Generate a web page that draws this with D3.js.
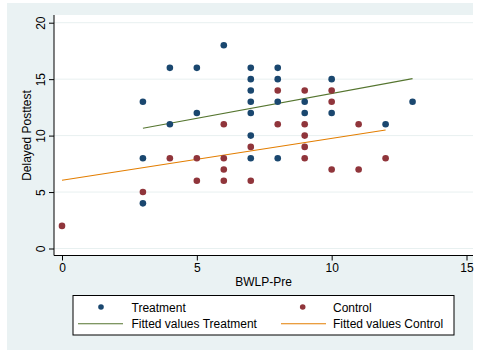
<!DOCTYPE html>
<html>
<head>
<meta charset="utf-8">
<script src="https://cdn.jsdelivr.net/npm/d3@7"></script>
<style>
body { margin: 0; background: #ffffff; }
text { font-family: "Liberation Sans", Arial, sans-serif; fill: #000; }
</style>
</head>
<body>
<div id="scatterplot"></div>
<script>
// svg parameters
var svgHeight = 351;
var svgWidth = 480;

// data
var treatX = [6, 4, 5, 7, 8, 7, 8, 10, 7, 3, 7, 8, 9, 13, 5, 7, 9, 10, 4, 12, 7, 3, 7, 8, 3];
var treatY = [18, 16, 16, 16, 16, 15, 15, 15, 14, 13, 13, 13, 13, 13, 12, 12, 12, 12, 11, 11, 10, 8, 8, 8, 4];
var controlX = [8, 9, 10, 10, 6, 8, 9, 11, 9, 7, 9, 4, 5, 6, 9, 12, 6, 10, 11, 5, 6, 7, 3, 0];
var controlY = [14, 14, 14, 13, 11, 11, 11, 11, 10, 9, 9, 8, 8, 8, 8, 8, 7, 7, 7, 6, 6, 6, 5, 2];
var fitTreatX = [3, 13];
var fitTreatY = [10.65, 15.05];
var fitControlX = [0, 12];
var fitControlY = [6.05, 10.5];
var xTicks = [0, 5, 10, 15];
var yTicks = [0, 5, 10, 15, 20];
var legendLabels = ["Treatment", "Control", "Fitted values Treatment", "Fitted values Control"];

var navy = "#1a476f", maroon = "#90353b", green = "#55752f", orange = "#e37e00";

var plot = {"left": 54, "right": 473, "top": 15, "bottom": 255.5};

var svg = d3.select("#scatterplot").append("svg").attr("id", "svgPlot")
	.attr("height", svgHeight)
	.attr("width", svgWidth);

// graph region + plot region
svg.append("rect").attr("x", 7).attr("y", 3).attr("width", 466).attr("height", 347).attr("fill", "#eaf2f3");
svg.append("rect").attr("x", plot.left).attr("y", plot.top)
	.attr("width", plot.right - plot.left).attr("height", plot.bottom - plot.top)
	.attr("fill", "#ffffff");

var xScale = d3.scaleLinear().domain([0, 15]).range([62, 466.5]);
var yScale = d3.scaleLinear().domain([0, 20]).range([248.5, 22.7]);

// gridlines
svg.append("g").selectAll("line").data(yTicks).enter().append("line")
	.attr("x1", plot.left).attr("x2", plot.right)
	.attr("y1", function(d) { return yScale(d); })
	.attr("y2", function(d) { return yScale(d); })
	.attr("stroke", "#e8f0f0").attr("stroke-width", 1);

// fitted lines
var line = d3.line().x(function(d) { return xScale(d[0]); }).y(function(d) { return yScale(d[1]); });
svg.append("path").datum(d3.zip(fitTreatX, fitTreatY)).attr("d", line)
	.attr("fill", "none").attr("stroke", green).attr("stroke-width", 1.1);
svg.append("path").datum(d3.zip(fitControlX, fitControlY)).attr("d", line)
	.attr("fill", "none").attr("stroke", orange).attr("stroke-width", 1.1);

// points
svg.append("g").selectAll("circle").data(d3.zip(controlX, controlY)).enter().append("circle")
	.attr("cx", function(d) { return xScale(d[0]); })
	.attr("cy", function(d) { return yScale(d[1]); })
	.attr("r", 3.3).attr("fill", maroon);
svg.append("g").selectAll("circle").data(d3.zip(treatX, treatY)).enter().append("circle")
	.attr("cx", function(d) { return xScale(d[0]); })
	.attr("cy", function(d) { return yScale(d[1]); })
	.attr("r", 3.3).attr("fill", navy);

// Axis
var xAxis = d3.axisBottom(xScale).tickValues(xTicks).tickSize(5).tickPadding(3);
var gx = svg.append("g").attr("transform", "translate(0," + plot.bottom + ")").call(xAxis);
gx.select(".domain").remove();
gx.append("line").attr("x1", plot.left).attr("x2", plot.right).attr("stroke", "#000");
gx.selectAll("text").attr("font-size", 12).attr("fill", "#000").style("font-family", "Liberation Sans, Arial, sans-serif");

var yAxis = d3.axisLeft(yScale).tickValues(yTicks).tickSize(5).tickFormat("");
var gy = svg.append("g").attr("transform", "translate(" + plot.left + ",0)").call(yAxis);
gy.select(".domain").remove();
gy.append("line").attr("y1", plot.top).attr("y2", plot.bottom).attr("stroke", "#000");
gy.selectAll(".tick").append("text")
	.attr("transform", "translate(-9.5,0) rotate(-90)")
	.attr("text-anchor", "middle")
	.attr("fill", "#000")
	.attr("font-size", 12)
	.text(function(d) { return d; });

svg.append("text").attr("x", 263.5).attr("y", 286).attr("text-anchor", "middle")
	.attr("font-size", 12).text("BWLP-Pre");
svg.append("text").attr("transform", "translate(31,135.5) rotate(-90)").attr("text-anchor", "middle")
	.attr("font-size", 12).text("Delayed Posttest");

// legend
var leg = svg.append("g");
leg.append("rect").attr("x", 73).attr("y", 295.5).attr("width", 381).attr("height", 39.5)
	.attr("fill", "#ffffff").attr("stroke", "#000").attr("stroke-width", 1);
var cols = [{"mx": 101, "lx1": 78, "lx2": 123, "tx": 131.5}, {"mx": 302.7, "lx1": 281, "lx2": 326, "tx": 333}];
leg.append("circle").attr("cx", cols[0].mx).attr("cy", 307).attr("r", 2.8).attr("fill", navy);
leg.append("circle").attr("cx", cols[1].mx).attr("cy", 307).attr("r", 2.8).attr("fill", maroon);
leg.append("line").attr("x1", cols[0].lx1).attr("x2", cols[0].lx2).attr("y1", 323.7).attr("y2", 323.7)
	.attr("stroke", green).attr("stroke-width", 1.1);
leg.append("line").attr("x1", cols[1].lx1).attr("x2", cols[1].lx2).attr("y1", 323.7).attr("y2", 323.7)
	.attr("stroke", orange).attr("stroke-width", 1.1);
leg.selectAll("text.lab").data(legendLabels).enter().append("text")
	.attr("class", "lab")
	.attr("x", function(d, i) { return cols[i % 2].tx; })
	.attr("y", function(d, i) { return i < 2 ? 311.5 : 327.8; })
	.attr("font-size", 12)
	.text(function(d) { return d; });
</script>
</body>
</html>
